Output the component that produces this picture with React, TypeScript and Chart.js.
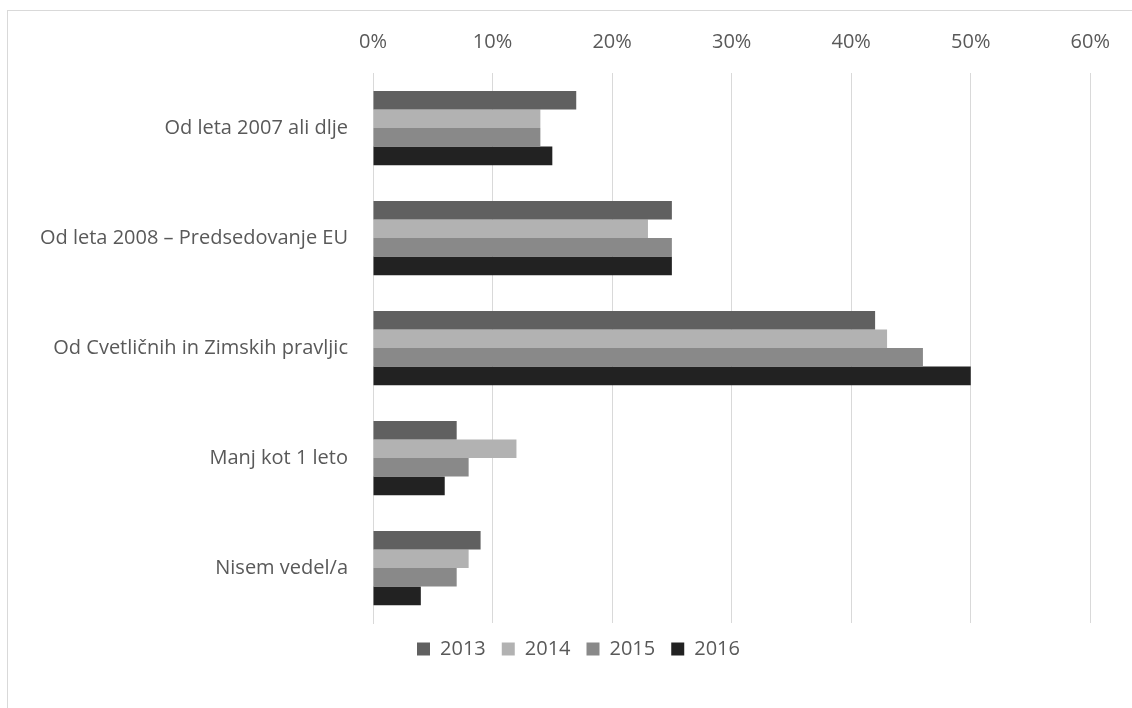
import React, { useEffect, useRef } from "react";
import { Chart, registerables } from "chart.js";

Chart.register(...registerables);

const categories = [
  "Od leta 2007 ali dlje",
  "Od leta 2008 – Predsedovanje EU",
  "Od Cvetličnih in Zimskih pravljic",
  "Manj kot 1 leto",
  "Nisem vedel/a",
];
const seriesNames = ["2013", "2014", "2015", "2016"];
const values2013 = [17, 25, 42, 7, 9];
const values2014 = [14, 23, 43, 12, 8];
const values2015 = [14, 25, 46, 8, 7];
const values2016 = [15, 25, 50, 6, 4];
const seriesColors = ["#606060", "#b2b2b2", "#898989", "#222222"];
const xTicks = [0, 10, 20, 30, 40, 50, 60];

const FONT = "'Open Sans', Lato, sans-serif";
const FS = 20;

const legendShift = {
  id: "legendShift",
  afterLayout(chart: any) {
    const lg = chart.legend;
    if (lg) {
      lg.left += 27;
      lg.right += 27;
    }
  },
};

export default function App() {
  const ref = useRef<HTMLCanvasElement | null>(null);

  useEffect(() => {
    if (!ref.current) return;
    const allValues = [values2013, values2014, values2015, values2016];
    const chart = new Chart(ref.current, {
      type: "bar",
      data: {
        labels: categories,
        datasets: seriesNames.map((name, i) => ({
          label: name,
          data: allValues[i],
          backgroundColor: seriesColors[i],
          borderWidth: 0,
          categoryPercentage: 0.675,
          barPercentage: 1.0,
        })),
      },
      plugins: [legendShift],
      options: {
        indexAxis: "y",
        animation: false,
        responsive: true,
        maintainAspectRatio: false,
        layout: { padding: { left: 0, right: 35, top: 0, bottom: 33 } },
        plugins: {
          legend: {
            position: "bottom",
            labels: {
              boxWidth: 13,
              boxHeight: 13,
              padding: 16,
              color: "#595959",
              font: { family: FONT, size: FS },
            },
          },
          tooltip: { enabled: false },
        },
        scales: {
          x: {
            position: "top",
            min: 0,
            max: 60,
            afterBuildTicks: (scale: any) => {
              scale.ticks = xTicks.map((v) => ({ value: v }));
            },
            afterFit: (scale: any) => {
              scale.height = 61;
            },
            ticks: {
              padding: 19,
              color: "#595959",
              font: { family: FONT, size: FS },
              callback: (v: any) => v + "%",
            },
            grid: { color: "#d9d9d9", lineWidth: 1, drawTicks: false },
            border: { display: false },
          },
          y: {
            afterFit: (scale: any) => {
              scale.width = 364;
            },
            ticks: {
              padding: 25,
              color: "#595959",
              font: { family: FONT, size: FS },
            },
            grid: { display: false, drawTicks: false },
            border: { display: true, color: "#d9d9d9", width: 1 },
          },
        },
      },
    });
    return () => chart.destroy();
  }, []);

  return (
    <div
      style={{
        position: "absolute",
        left: 7,
        top: 10,
        width: 1125,
        height: 698,
        borderTop: "1px solid #d9d9d9",
        borderLeft: "1px solid #d9d9d9",
        boxSizing: "border-box",
        background: "#fff",
      }}
    >
      <div style={{ position: "absolute", left: 1, top: 1, width: 1120, height: 690 }}>
        <canvas ref={ref} />
      </div>
    </div>
  );
}
